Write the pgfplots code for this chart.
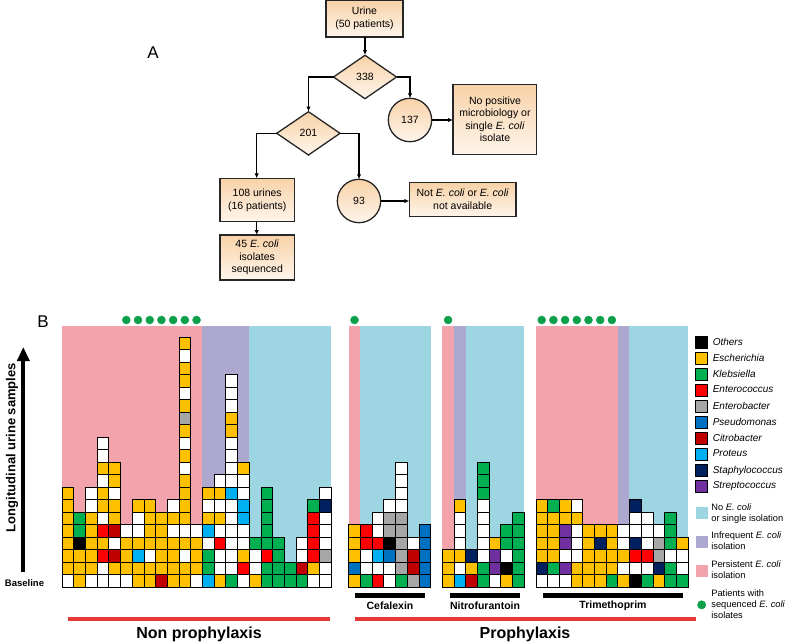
\documentclass[border=0pt]{standalone}
\usepackage{pgfplots}
\pgfplotsset{compat=1.18}
\usepackage{fontspec}
\setmainfont{Liberation Sans}
\usetikzlibrary{arrows.meta}
\definecolor{cO}{HTML}{FFC000}
\definecolor{cG}{HTML}{00B050}
\definecolor{cR}{HTML}{FF0000}
\definecolor{cY}{HTML}{A6A6A6}
\definecolor{cB}{HTML}{0070C0}
\definecolor{cD}{HTML}{C00000}
\definecolor{cC}{HTML}{00B0F0}
\definecolor{cN}{HTML}{002060}
\definecolor{cP}{HTML}{7030A0}
\definecolor{cK}{HTML}{000000}
\definecolor{bgPink}{HTML}{F2A3AB}
\definecolor{bgPurple}{HTML}{ADA8CF}
\definecolor{bgBlue}{HTML}{9ED5E2}
\definecolor{dotGreen}{HTML}{0E9F4B}
\definecolor{fcTop}{HTML}{F8D2A8}
\definecolor{fcBot}{HTML}{FEF5EB}
\definecolor{redline}{HTML}{E53935}
\pgfplotsset{
  sqleg/.style={legend image code/.code={\filldraw[draw=black,fill=#1,line width=0.7pt] (0pt,-5.8pt) rectangle (11.6pt,5.8pt);}},
  bgleg/.style={legend image code/.code={\fill[#1] (0pt,-5.5pt) rectangle (11pt,5.5pt);}},
}
\begin{document}
\begin{tikzpicture}
\begin{scope}[x=1pt,y=-1pt,font=\fontsize{10.5}{12.6}\selectfont,line width=1.3pt]
\tikzset{fc/.style={draw=black!85,top color=fcTop,bottom color=fcBot},
         arr/.style={-{Latex[length=5pt,width=4.5pt]}}}
% flowchart
\node[font=\fontsize{17}{20}\selectfont] at (153,53) {A};
\path[fc] (326,0.8) rectangle (403,37);
\node[align=center] at (364.5,18.5) {Urine\\(50 patients)};
\draw[arr] (365,37) -- (365,55);
\path[fc] (333.5,77) -- (365,55.3) -- (396.5,77) -- (365,98.7) -- cycle;
\node at (365,77) {338};
\draw[arr] (333.5,77) -- (308.5,77) -- (308.5,111.5);
\draw[arr] (396.5,77) -- (410,77) -- (410,98.3);
\path[fc] (410,120) circle (21.7pt);
\node at (410,120) {137};
\draw[arr] (431.7,120) -- (453,120);
\path[fc] (453,84.3) rectangle (536.7,154.3);
\node[align=center] at (495,119.3) {No positive\\microbiology or\\single \textit{E. coli}\\isolate};
\path[fc] (276.7,133.3) -- (308.5,111.7) -- (340,133.3) -- (308.5,155) -- cycle;
\node at (308.5,133.3) {201};
\draw[arr] (276.7,133.3) -- (256.7,133.3) -- (256.7,178.3);
\draw[arr] (340,133.3) -- (359,133.3) -- (359,179.3);
\path[fc] (220,178.3) rectangle (294.3,221.7);
\node[align=center] at (257.2,200.5) {108 urines\\(16 patients)};
\path[fc] (359,201) circle (21.7pt);
\node at (359,201) {93};
\draw[arr] (380.7,201) -- (409.3,201);
\path[fc] (409.3,182.7) rectangle (516,216.7);
\node[align=center] at (462.7,199.5) {Not \textit{E. coli} or \textit{E. coli}\\not available};
\draw[arr] (256.7,221.7) -- (256.7,235);
\path[fc] (220,235) rectangle (294.3,280);
\node[align=center] at (257.2,257.5) {45 \textit{E. coli}\\isolates\\sequenced};
% panel B annotations
\node[font=\fontsize{17}{20}\selectfont] at (43,322) {B};
\node[rotate=90,font=\bfseries\fontsize{13}{15}\selectfont] at (12,447.5) {Longitudinal urine samples};
\draw[line width=4.2pt,-{Triangle[length=14pt,width=12pt]}] (23.3,572) -- (23.3,347);
\node[font=\bfseries\fontsize{9.5}{11}\selectfont] at (24.5,583) {Baseline};
\draw[line width=4.4pt] (355,595.5) -- (425,595.5);
\draw[line width=4.4pt] (450,595.5) -- (520,595.5);
\draw[line width=4.4pt] (543,595.5) -- (683,595.5);
\node[font=\bfseries\fontsize{10.5}{12}\selectfont] at (390,605.5) {Cefalexin};
\node[font=\bfseries\fontsize{10.5}{12}\selectfont] at (485,605.5) {Nitrofurantoin};
\node[font=\bfseries\fontsize{10.5}{12}\selectfont] at (613,605.5) {Trimethoprim};
\draw[redline,line width=4.5pt] (68,619) -- (330,619);
\draw[redline,line width=4.5pt] (355,619) -- (696,619);
\node[font=\bfseries\fontsize{16}{18}\selectfont] at (199,634) {Non prophylaxis};
\node[font=\bfseries\fontsize{16}{18}\selectfont] at (525,634) {Prophylaxis};
\end{scope}

\begin{axis}[at={(62pt,-587pt)},anchor=south west,x=11.7pt,y=12.5pt,
  xmin=0,xmax=53.5,ymin=0,ymax=20.9,enlargelimits=false,hide axis,clip=false,
  legend style={at={(1.01126,0.96077)},anchor=north west,draw=none,fill=none,inner sep=0pt,outer sep=0pt,
    font=\fontsize{10}{11}\selectfont,row sep=3.7pt,column sep=5pt,nodes={inner sep=0.5pt}},
  legend cell align=left]
% backgrounds
\addplot[fill=bgPink,draw=none,forget plot] coordinates {(0,0) (12,0) (12,20.9) (0,20.9)} -- cycle;
\addplot[fill=bgPurple,draw=none,forget plot] coordinates {(12,0) (16,0) (16,20.9) (12,20.9)} -- cycle;
\addplot[fill=bgBlue,draw=none,forget plot] coordinates {(16,0) (23,0) (23,20.9) (16,20.9)} -- cycle;
\addplot[fill=bgPink,draw=none,forget plot] coordinates {(24.5,0) (25.5,0) (25.5,20.9) (24.5,20.9)} -- cycle;
\addplot[fill=bgBlue,draw=none,forget plot] coordinates {(25.5,0) (31.5,0) (31.5,20.9) (25.5,20.9)} -- cycle;
\addplot[fill=bgPink,draw=none,forget plot] coordinates {(32.5,0) (33.5,0) (33.5,20.9) (32.5,20.9)} -- cycle;
\addplot[fill=bgPurple,draw=none,forget plot] coordinates {(33.5,0) (34.5,0) (34.5,20.9) (33.5,20.9)} -- cycle;
\addplot[fill=bgBlue,draw=none,forget plot] coordinates {(34.5,0) (39.5,0) (39.5,20.9) (34.5,20.9)} -- cycle;
\addplot[fill=bgPink,draw=none,forget plot] coordinates {(40.5,0) (47.5,0) (47.5,20.9) (40.5,20.9)} -- cycle;
\addplot[fill=bgPurple,draw=none,forget plot] coordinates {(47.5,0) (48.5,0) (48.5,20.9) (47.5,20.9)} -- cycle;
\addplot[fill=bgBlue,draw=none,forget plot] coordinates {(48.5,0) (53.5,0) (53.5,20.9) (48.5,20.9)} -- cycle;
% cells
\addplot[scatter,only marks,forget plot,scatter src=explicit symbolic,mark=square*,mark size=5.85pt,
  every mark/.append style={yscale=1.06838,line width=0.7pt},
  scatter/classes={
    O={mark=square*,draw=black,fill=cO},
    W={mark=square*,draw=black,fill=white},
    G={mark=square*,draw=black,fill=cG},
    R={mark=square*,draw=black,fill=cR},
    D={mark=square*,draw=black,fill=cD},
    K={mark=square*,draw=black,fill=cK},
    Y={mark=square*,draw=black,fill=cY},
    B={mark=square*,draw=black,fill=cB},
    C={mark=square*,draw=black,fill=cC},
    N={mark=square*,draw=black,fill=cN},
    P={mark=square*,draw=black,fill=cP}}]
table[meta=c,row sep=\\]{
x y c\\
0.5 0.5 W\\0.5 1.5 O\\0.5 2.5 O\\0.5 3.5 O\\0.5 4.5 O\\0.5 5.5 O\\0.5 6.5 O\\0.5 7.5 O\\
1.5 0.5 O\\1.5 1.5 O\\1.5 2.5 O\\1.5 3.5 K\\1.5 4.5 G\\1.5 5.5 G\\
2.5 0.5 W\\2.5 1.5 O\\2.5 2.5 O\\2.5 3.5 O\\2.5 4.5 O\\2.5 5.5 O\\2.5 6.5 W\\2.5 7.5 W\\
3.5 0.5 W\\3.5 1.5 W\\3.5 2.5 R\\3.5 3.5 O\\3.5 4.5 R\\3.5 5.5 W\\3.5 6.5 O\\3.5 7.5 O\\3.5 8.5 W\\3.5 9.5 O\\3.5 10.5 W\\3.5 11.5 W\\
4.5 0.5 W\\4.5 1.5 O\\4.5 2.5 D\\4.5 3.5 W\\4.5 4.5 D\\4.5 5.5 O\\4.5 6.5 O\\4.5 7.5 W\\4.5 8.5 O\\4.5 9.5 O\\
5.5 0.5 W\\5.5 1.5 O\\5.5 2.5 O\\5.5 3.5 O\\5.5 4.5 W\\
6.5 0.5 O\\6.5 1.5 O\\6.5 2.5 C\\6.5 3.5 O\\6.5 4.5 W\\6.5 5.5 W\\6.5 6.5 O\\
7.5 0.5 O\\7.5 1.5 O\\7.5 2.5 W\\7.5 3.5 O\\7.5 4.5 O\\7.5 5.5 O\\7.5 6.5 O\\
8.5 0.5 D\\8.5 1.5 O\\8.5 2.5 O\\8.5 3.5 O\\8.5 4.5 O\\8.5 5.5 O\\
9.5 0.5 O\\9.5 1.5 O\\9.5 2.5 O\\9.5 3.5 O\\9.5 4.5 W\\9.5 5.5 O\\9.5 6.5 W\\
10.5 0.5 O\\10.5 1.5 O\\10.5 2.5 W\\10.5 3.5 O\\10.5 4.5 W\\10.5 5.5 O\\10.5 6.5 O\\10.5 7.5 O\\10.5 8.5 O\\10.5 9.5 W\\10.5 10.5 O\\10.5 11.5 W\\10.5 12.5 O\\10.5 13.5 Y\\10.5 14.5 O\\10.5 15.5 W\\10.5 16.5 O\\10.5 17.5 O\\10.5 18.5 W\\10.5 19.5 O\\
11.5 0.5 W\\11.5 1.5 O\\11.5 2.5 O\\11.5 3.5 O\\11.5 4.5 W\\
12.5 0.5 C\\12.5 1.5 G\\12.5 2.5 G\\12.5 3.5 W\\12.5 4.5 C\\12.5 5.5 O\\12.5 6.5 W\\12.5 7.5 O\\
13.5 0.5 O\\13.5 1.5 W\\13.5 2.5 W\\13.5 3.5 R\\13.5 4.5 W\\13.5 5.5 O\\13.5 6.5 W\\13.5 7.5 O\\13.5 8.5 W\\
14.5 0.5 G\\14.5 1.5 W\\14.5 2.5 W\\14.5 3.5 W\\14.5 4.5 W\\14.5 5.5 W\\14.5 6.5 W\\14.5 7.5 C\\14.5 8.5 W\\14.5 9.5 W\\14.5 10.5 W\\14.5 11.5 W\\14.5 12.5 O\\14.5 13.5 O\\14.5 14.5 W\\14.5 15.5 W\\14.5 16.5 W\\
15.5 0.5 W\\15.5 1.5 R\\15.5 2.5 O\\15.5 3.5 W\\15.5 4.5 W\\15.5 5.5 C\\15.5 6.5 C\\15.5 7.5 W\\15.5 8.5 W\\15.5 9.5 O\\
16.5 0.5 O\\16.5 1.5 W\\16.5 2.5 W\\16.5 3.5 G\\
17.5 0.5 G\\17.5 1.5 G\\17.5 2.5 R\\17.5 3.5 G\\17.5 4.5 G\\17.5 5.5 G\\17.5 6.5 G\\17.5 7.5 G\\
18.5 0.5 G\\18.5 1.5 G\\18.5 2.5 G\\18.5 3.5 G\\
19.5 0.5 G\\19.5 1.5 G\\
20.5 0.5 G\\20.5 1.5 D\\20.5 2.5 W\\20.5 3.5 W\\
21.5 0.5 W\\21.5 1.5 O\\21.5 2.5 R\\21.5 3.5 R\\21.5 4.5 R\\21.5 5.5 R\\21.5 6.5 G\\
22.5 0.5 W\\22.5 1.5 W\\22.5 2.5 Y\\22.5 3.5 W\\22.5 4.5 W\\22.5 5.5 W\\22.5 6.5 N\\22.5 7.5 W\\
25 0.5 O\\25 1.5 B\\25 2.5 O\\25 3.5 O\\25 4.5 O\\
26 0.5 G\\26 1.5 W\\26 2.5 W\\26 3.5 R\\26 4.5 R\\
27 0.5 R\\27 1.5 W\\27 2.5 C\\27 3.5 R\\27 4.5 W\\27 5.5 W\\
28 0.5 W\\28 1.5 W\\28 2.5 B\\28 3.5 K\\28 4.5 Y\\28 5.5 Y\\28 6.5 W\\
29 0.5 G\\29 1.5 Y\\29 2.5 Y\\29 3.5 Y\\29 4.5 Y\\29 5.5 Y\\29 6.5 W\\29 7.5 W\\29 8.5 W\\29 9.5 W\\
30 0.5 Y\\30 1.5 D\\30 2.5 D\\30 3.5 W\\
31 0.5 B\\31 1.5 B\\31 2.5 B\\31 3.5 B\\31 4.5 B\\
33 0.5 O\\33 1.5 O\\33 2.5 O\\
34 0.5 C\\34 1.5 W\\34 2.5 O\\34 3.5 W\\34 4.5 W\\34 5.5 W\\34 6.5 O\\
35 0.5 D\\35 1.5 O\\35 2.5 N\\
36 0.5 G\\36 1.5 G\\36 2.5 W\\36 3.5 W\\36 4.5 W\\36 5.5 W\\36 6.5 W\\36 7.5 G\\36 8.5 G\\36 9.5 G\\
37 0.5 W\\37 1.5 P\\37 2.5 P\\37 3.5 O\\
38 0.5 O\\38 1.5 K\\38 2.5 W\\38 3.5 G\\38 4.5 G\\
39 0.5 G\\39 1.5 G\\39 2.5 G\\39 3.5 G\\39 4.5 G\\39 5.5 G\\
41 0.5 W\\41 1.5 N\\41 2.5 O\\41 3.5 O\\41 4.5 O\\41 5.5 O\\41 6.5 O\\
42 0.5 W\\42 1.5 G\\42 2.5 O\\42 3.5 O\\42 4.5 O\\42 5.5 O\\42 6.5 G\\
43 0.5 W\\43 1.5 P\\43 2.5 W\\43 3.5 P\\43 4.5 P\\43 5.5 O\\43 6.5 O\\
44 0.5 O\\44 1.5 O\\44 2.5 W\\44 3.5 W\\44 4.5 W\\44 5.5 O\\44 6.5 W\\
45 0.5 O\\45 1.5 O\\45 2.5 O\\45 3.5 O\\45 4.5 O\\
46 0.5 O\\46 1.5 O\\46 2.5 O\\46 3.5 N\\46 4.5 O\\
47 0.5 G\\47 1.5 O\\47 2.5 O\\47 3.5 O\\47 4.5 O\\
48 0.5 O\\48 1.5 W\\48 2.5 O\\48 3.5 W\\48 4.5 W\\
49 0.5 K\\49 1.5 W\\49 2.5 R\\49 3.5 N\\49 4.5 W\\49 5.5 W\\49 6.5 N\\
50 0.5 G\\50 1.5 W\\50 2.5 R\\50 3.5 W\\50 4.5 W\\50 5.5 W\\
51 0.5 O\\51 1.5 N\\51 2.5 Y\\51 3.5 Y\\51 4.5 W\\
52 0.5 G\\52 1.5 G\\52 2.5 W\\52 3.5 G\\52 4.5 G\\52 5.5 G\\
53 0.5 G\\53 1.5 W\\53 2.5 W\\53 3.5 O\\
};
% legend (taxa)
\addlegendimage{sqleg=cK}\addlegendentry{\textit{Others}}
\addlegendimage{sqleg=cO}\addlegendentry{\textit{Escherichia}}
\addlegendimage{sqleg=cG}\addlegendentry{\textit{Klebsiella}}
\addlegendimage{sqleg=cR}\addlegendentry{\textit{Enterococcus}}
\addlegendimage{sqleg=cY}\addlegendentry{\textit{Enterobacter}}
\addlegendimage{sqleg=cB}\addlegendentry{\textit{Pseudomonas}}
\addlegendimage{sqleg=cD}\addlegendentry{\textit{Citrobacter}}
\addlegendimage{sqleg=cC}\addlegendentry{\textit{Proteus}}
\addlegendimage{sqleg=cN}\addlegendentry{\textit{Staphylococcus}}
\addlegendimage{sqleg=cP}\addlegendentry{\textit{Streptococcus}}
\end{axis}

\begin{axis}[at={(62pt,-587pt)},anchor=south west,x=11.7pt,y=12.5pt,
  xmin=0,xmax=53.5,ymin=0,ymax=20.9,enlargelimits=false,hide axis,clip=false,
  legend style={at={(1.0128,0.3215)},anchor=north west,draw=none,fill=none,inner sep=0pt,outer sep=0pt,
    font=\fontsize{9.3}{11}\selectfont,row sep=8.5pt,column sep=3.5pt,cells={align=left},nodes={inner sep=0.5pt}},
  legend cell align=left]
% patients with sequenced E. coli isolates
\addplot[only marks,mark=*,mark size=4pt,color=dotGreen,forget plot] coordinates {
(5.5,21.36) (6.5,21.36) (7.5,21.36) (8.5,21.36) (9.5,21.36) (10.5,21.36) (11.5,21.36)
(25,21.36) (33,21.36)
(41,21.36) (42,21.36) (43,21.36) (44,21.36) (45,21.36) (46,21.36) (47,21.36)};
\addlegendimage{bgleg=bgBlue}\addlegendentry{No \textit{E. coli}\\or single isolation}
\addlegendimage{bgleg=bgPurple}\addlegendentry{Infrequent \textit{E. coli}\\isolation}
\addlegendimage{bgleg=bgPink}\addlegendentry{Persistent \textit{E. coli}\\isolation}
\addlegendimage{legend image code/.code={\fill[dotGreen] (5.5pt,0pt) circle (4.2pt);}}
\addlegendentry{Patients with\\sequenced \textit{E. coli}\\isolates}
\end{axis}
\pgfresetboundingbox
\path[use as bounding box] (0,0) rectangle (787pt,-643pt);
\end{tikzpicture}
\end{document}
